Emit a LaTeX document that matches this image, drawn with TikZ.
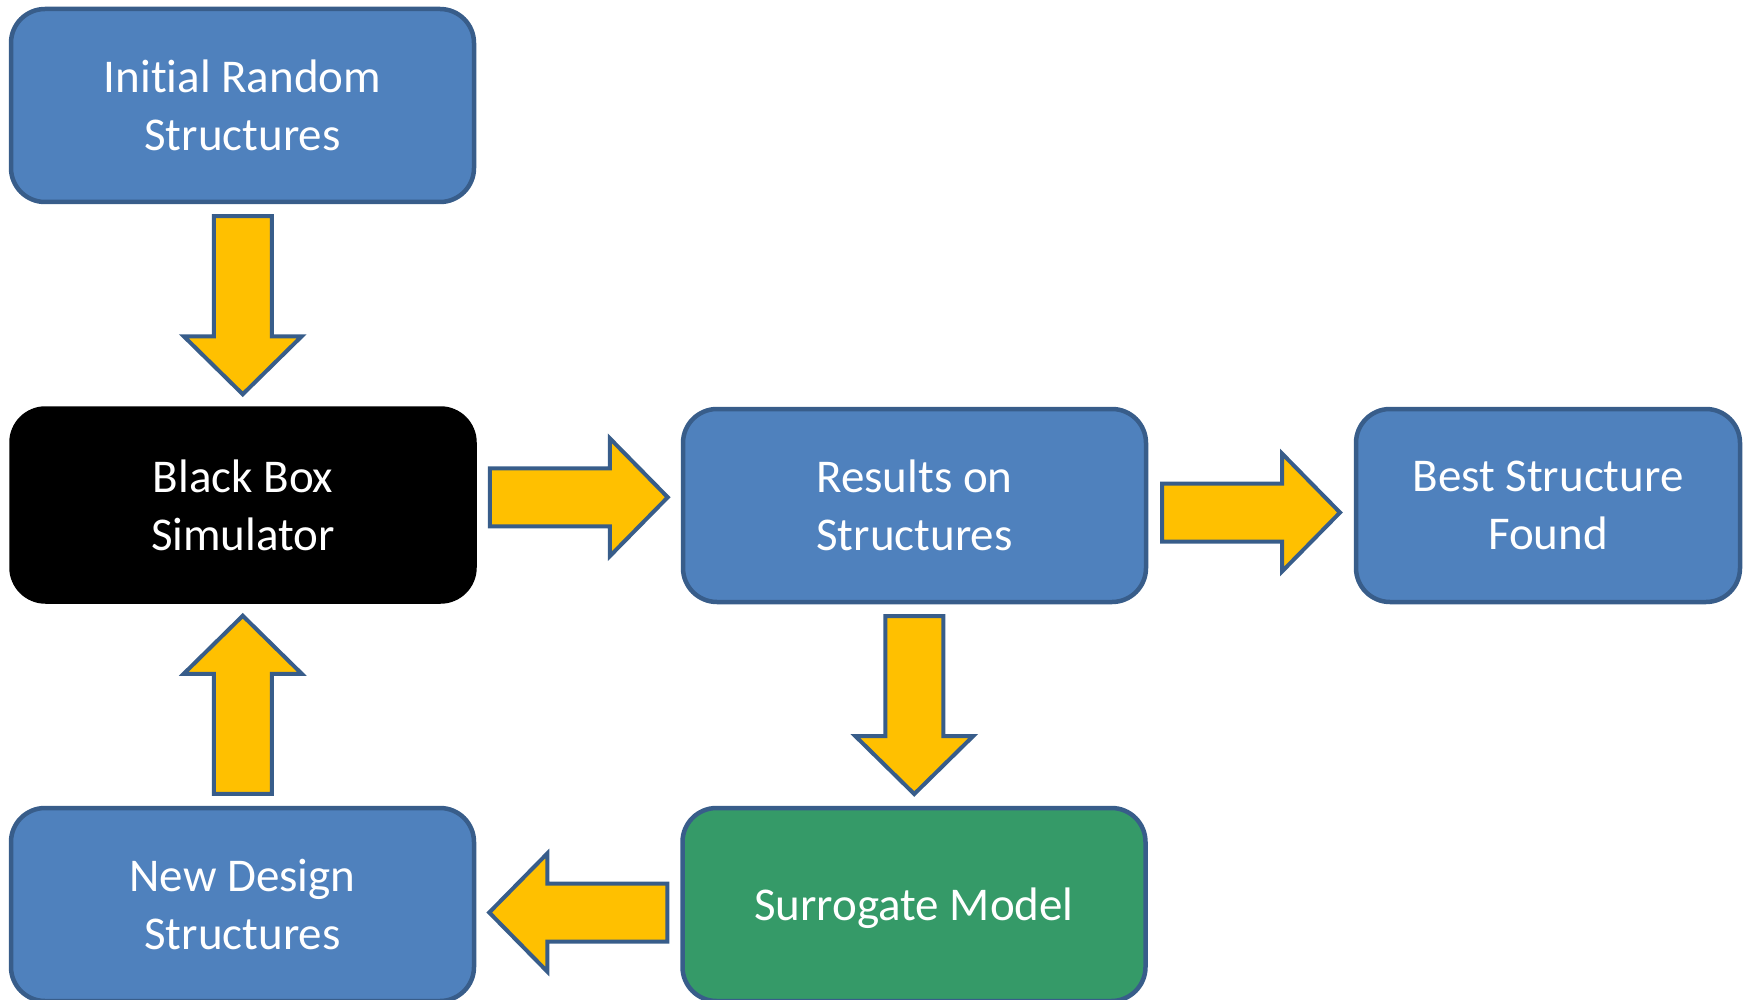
\documentclass[tikz,border=0pt]{standalone}
\usepackage{fontspec}
\setmainfont{Carlito}[Ligatures=NoCommon]
\usetikzlibrary{calc}
\definecolor{boxblue}{HTML}{4F81BD}
\definecolor{edgeblue}{HTML}{385D8A}
\definecolor{boxgreen}{HTML}{359A68}
\definecolor{arrowgold}{HTML}{FFC000}
\begin{document}
\begin{tikzpicture}[x=0.5pt,y=-0.5pt,
  box/.style={rectangle, rounded corners=17pt, draw=edgeblue, line width=2.25pt,
    fill=boxblue, text=white, align=center,
    font=\fontsize{23.5}{29}\selectfont,
    minimum width=231.5pt, minimum height=96.5pt, inner sep=0pt},
  blockarrow/.pic={\draw[line width=2pt, draw=edgeblue, fill=arrowgold, line join=miter]
    (-89,-29) -- (31,-29) -- (31,-59) -- (89,0) -- (31,59) -- (31,29) -- (-89,29) -- cycle;}
]
\useasboundingbox (0,0) rectangle (1750,1000);
\node[box] (init) at (242.5,105.5) {Initial Random\\Structures};
\node[box, fill=black, draw=black] (black) at (243,505) {Black Box\\Simulator};
\node[box] (results) at (914.5,505.5) {Results on\\Structures};
\node[box, minimum width=192pt] (best) at (1548,505.5) {Best Structure\\Found};
\node[box] (new) at (242.5,904.5) {New Design\\Structures};
\node[box, fill=boxgreen] (surr) at (914,904.5) {\raisebox{-2pt}[\height][\depth]{Surrogate Model}};

\pic[rotate=-90] (a1) at ($(init.south)!0.5!(black.north)$) {blockarrow};
\pic (a2) at ($(black.east)!0.5!(results.west)+(0,-8)$) {blockarrow};
\pic (a3) at ($(results.east)!0.5!(best.west)+(0,7)$) {blockarrow};
\pic[rotate=-90] (a4) at ($(results.south)!0.5!(surr.north)$) {blockarrow};
\pic[rotate=180] (a5) at ($(surr.west)!0.5!(new.east)+(0,8)$) {blockarrow};
\pic[rotate=90] (a6) at ($(new.north)!0.5!(black.south)$) {blockarrow};
\end{tikzpicture}
\end{document}
